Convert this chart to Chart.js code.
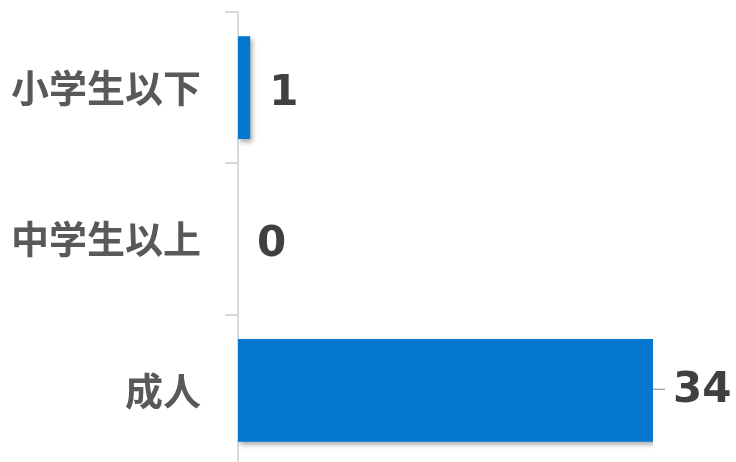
<!DOCTYPE html>
<html>
<head>
<meta charset="utf-8">
<script src="https://cdn.jsdelivr.net/npm/chart.js@4.4.1/dist/chart.umd.min.js"></script>
<style>
  html, body { margin: 0; padding: 0; background: #fff; overflow: hidden; }
  #wrap { width: 736px; height: 462px; overflow: hidden; }
</style>
</head>
<body>
<div id="wrap"><canvas id="chart" width="736" height="470"></canvas></div>
<script>
// data
const categories = ["小学生以下", "中学生以上", "成人"];
const counts = [1, 0, 34];
const xMax = 34;

const barColor = "#0677cf";

// soft shadow under the bars
const barShadow = {
    id: "barShadow",
    beforeDatasetsDraw(chart) {
        const ctx = chart.ctx;
        ctx.save();
        ctx.shadowColor = "rgba(0,0,0,0.35)";
        ctx.shadowBlur = 5;
        ctx.shadowOffsetX = 2;
        ctx.shadowOffsetY = 3;
    },
    afterDatasetsDraw(chart) {
        chart.ctx.restore();
    }
};

// value labels next to bars
const valueLabels = {
    id: "valueLabels",
    afterDraw(chart) {
        const ctx = chart.ctx;
        const meta = chart.getDatasetMeta(0);
        const maxVal = Math.max(...counts);
        ctx.save();
        ctx.font = "bold 42px 'DejaVu Sans'";
        ctx.fillStyle = "#404040";
        ctx.textBaseline = "middle";
        ctx.textAlign = "left";
        meta.data.forEach((bar, i) => {
            let x = bar.x;
            if (counts[i] === maxVal) {
                // leader line
                ctx.strokeStyle = "#a6a6a6";
                ctx.lineWidth = 1.5;
                ctx.beginPath();
                ctx.moveTo(x, bar.y - 1);
                ctx.lineTo(x + 12, bar.y - 1);
                ctx.stroke();
                ctx.fillText(String(counts[i]), x + 20, bar.y + 1);
            } else {
                ctx.fillText(String(counts[i]), x + 19, bar.y + 6);
            }
        });
        ctx.restore();
    }
};

new Chart(document.getElementById("chart"), {
    type: "bar",
    data: {
        labels: categories,
        datasets: [{
            data: counts,
            backgroundColor: barColor,
            borderWidth: 0,
            categoryPercentage: 1,
            barPercentage: 0.68
        }]
    },
    options: {
        indexAxis: "y",
        responsive: false,
        animation: false,
        layout: { padding: { top: 12, right: 83, bottom: 4, left: 0 } },
        plugins: {
            legend: { display: false },
            tooltip: { enabled: false }
        },
        scales: {
            x: {
                display: false,
                min: 0,
                max: xMax
            },
            y: {
                afterFit(scale) {
                    scale.width = 238;
                    scale.paddingTop = 0;
                    scale.paddingBottom = 0;
                },
                border: { display: true, color: "#d9d9d9", width: 2 },
                grid: {
                    drawOnChartArea: false,
                    drawTicks: true,
                    tickLength: 13,
                    color: "#d9d9d9",
                    lineWidth: 2,
                    offset: true
                },
                ticks: {
                    padding: 24,
                    color: "#595959",
                    font: { family: "'Noto Sans CJK JP'", size: 38, weight: "bold" }
                }
            }
        }
    },
    plugins: [barShadow, valueLabels]
});
</script>
</body>
</html>
